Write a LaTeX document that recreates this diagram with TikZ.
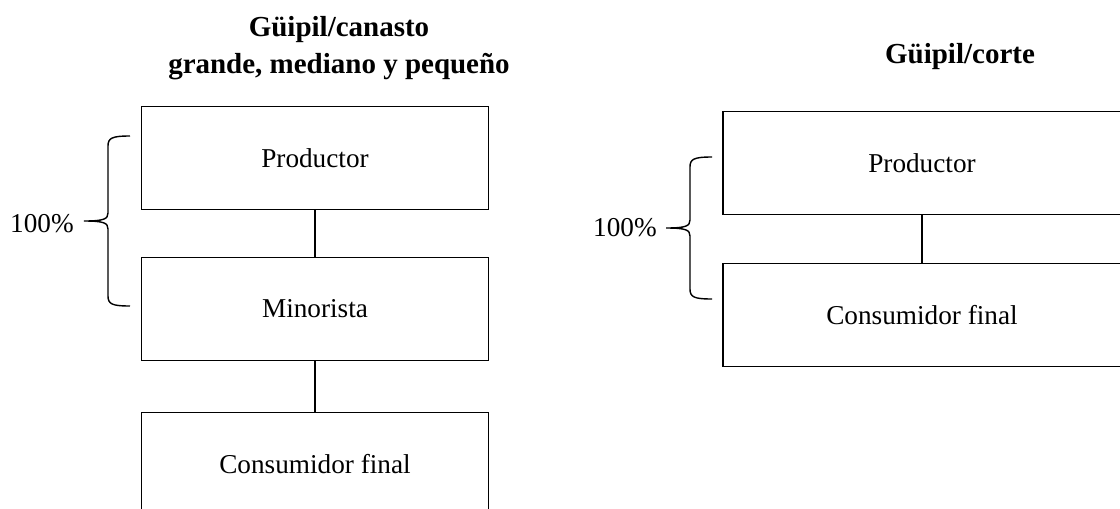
\documentclass[tikz,border=0pt]{standalone}
\usepackage{fontspec}
\setmainfont{Liberation Serif}

\begin{document}
\begin{tikzpicture}[x=0.02cm,y=-0.02cm,
        caja/.style={draw,line width=0.8pt,minimum height=2.05cm,font=\fontsize{15.5}{18}\selectfont},
        titulo/.style={align=center,font=\bfseries\fontsize{16.5}{21}\selectfont},
        llave/.pic={\draw[line width=0.8pt] (22,-#1) .. controls (4,-#1) and (0,-#1+2) .. (0,-#1+10) -- (0,-8)
            .. controls (0,-2) and (-4,0) .. (-24,0) .. controls (-4,0) and (0,2) .. (0,8)
            -- (0,#1-10) .. controls (0,#1-2) and (4,#1) .. (22,#1);}]
    \useasboundingbox (0,0) rectangle (1120,508);
    \node[titulo] (titA) at (339,48) {Güipil/canasto\\grande, mediano y pequeño};
    \node[caja,minimum width=6.94cm] (prodA) at (315,158) {Productor};
    \node[caja,minimum width=6.94cm] (minA) at (315,309) {Minorista};
    \node[caja,minimum width=6.94cm] (consA) at (315,464) {Consumidor final};
    \draw[line width=0.8pt] (prodA) -- (minA);
    \draw[line width=0.8pt] (minA) -- (consA);
    \pic at (108,221) {llave=85};
    \node[font=\fontsize{15.5}{18}\selectfont] (pctA) at (42,224) {100\%};
    \node[titulo] (titB) at (960,57) {Güipil/corte};
    \node[caja,minimum width=7.96cm] (prodB) at (922,163) {Productor};
    \node[caja,minimum width=7.96cm] (consB) at (922,315) {Consumidor final};
    \draw[line width=0.8pt] (prodB) -- (consB);
    \pic at (690,228) {llave=71};
    \node[font=\fontsize{15.5}{18}\selectfont] (pctB) at (625,228) {100\%};
\end{tikzpicture}
\end{document}
